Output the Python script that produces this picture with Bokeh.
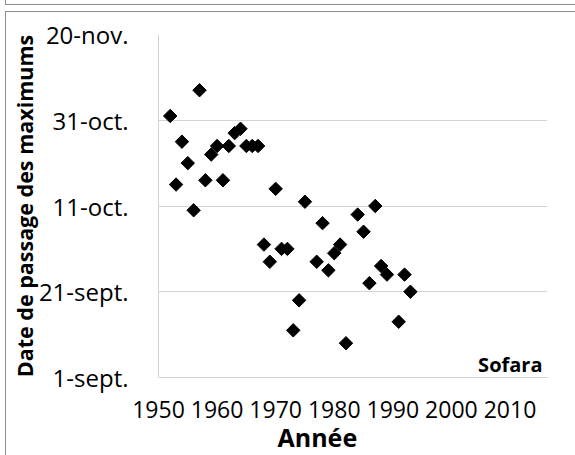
import math
from bokeh.plotting import figure
from bokeh.models import ColumnDataSource, Range1d, FixedTicker, Label, Title
from bokeh.embed import file_html
from bokeh.resources import INLINE

# Years and date of peak passage (days after 1 September)
years = [1952, 1953, 1954, 1955, 1956, 1957, 1958, 1959, 1960, 1961, 1962, 1963,
         1964, 1965, 1966, 1967, 1968, 1969, 1970, 1971, 1972, 1973, 1974, 1975,
         1977, 1978, 1979, 1980, 1981, 1982, 1984, 1985, 1986, 1987, 1988, 1989,
         1991, 1992, 1993]
days_after_sept1 = [61, 45, 55, 50, 39, 67, 46, 52, 54, 46, 54, 57,
                    58, 54, 54, 54, 31, 27, 44, 30, 30, 11, 18, 41,
                    27, 36, 25, 29, 31, 8, 38, 34, 22, 40, 26, 24,
                    13, 24, 20]

y_ticks = [0, 20, 40, 60, 80]
y_tick_labels = ["1-sept.", "21-sept.", "11-oct.", "31-oct.", "20-nov."]
x_ticks = [1950, 1960, 1970, 1980, 1990, 2000, 2010]

FONT = "Open Sans"
FRAME_GREY = "#8c8c8c"

p = figure(width=575, height=455, output_backend="svg", toolbar_location=None,
           x_range=Range1d(1950, 2016.4), y_range=Range1d(0, 80),
           min_border_left=158, min_border_right=28, min_border_top=34,
           min_border_bottom=78)
p.outline_line_color = None
p.background_fill_color = "white"
p.border_fill_color = None
# chart-area frame lines (spreadsheet style border), drawn as CSS backgrounds
p.styles = {
    "background-color": "white",
    "background-image": ", ".join([f"linear-gradient({FRAME_GREY}, {FRAME_GREY})"] * 4),
    "background-size": "570px 1px, 1px 5px, 570px 1px, 1px 444px",
    "background-position": "5px 4px, 5px 0px, 5px 11px, 5px 11px",
    "background-repeat": "no-repeat",
}

src = ColumnDataSource(dict(x=years, y=days_after_sept1))
p.scatter("x", "y", source=src, marker="square", size=9.5, angle=math.pi / 4,
          fill_color="black", line_color="black")

# grid
p.xgrid.grid_line_color = None
p.ygrid.grid_line_color = "#d4d4d4"
p.ygrid.grid_line_width = 1

p.yaxis.ticker = FixedTicker(ticks=y_ticks)
p.yaxis.major_label_overrides = {t: l for t, l in zip(y_ticks, y_tick_labels)}
p.xaxis.ticker = FixedTicker(ticks=x_ticks)

for ax in (p.xaxis, p.yaxis):
    ax.axis_line_color = "#d4d4d4"
    ax.major_tick_line_color = None
    ax.minor_tick_line_color = None
    ax.major_label_text_font = FONT
    ax.major_label_text_color = "black"

p.xaxis.major_label_text_font_size = "23px"
p.yaxis.major_label_text_font_size = "24px"
p.yaxis.major_label_standoff = 24
p.xaxis.major_label_standoff = 17

p.yaxis.axis_label = "Date de passage des maximums"
p.yaxis.axis_label_text_font = FONT
p.yaxis.axis_label_text_font_style = "bold"
p.yaxis.axis_label_text_font_size = "21.5px"
p.yaxis.axis_label_text_color = "black"
p.yaxis.axis_label_standoff = -3

p.add_layout(Title(text="Année", align="left", offset=119, standoff=-5,
                   text_font=FONT, text_font_style="bold",
                   text_font_size="25px", text_color="black"), "below")

p.add_layout(Label(x=2016.4, y=0, x_offset=-5, y_offset=13, text="Sofara",
                   text_align="right", text_baseline="alphabetic",
                   text_font=FONT, text_font_style="bold",
                   text_font_size="20px", text_color="black"))

open("out.html", "w").write(file_html(p, INLINE))
